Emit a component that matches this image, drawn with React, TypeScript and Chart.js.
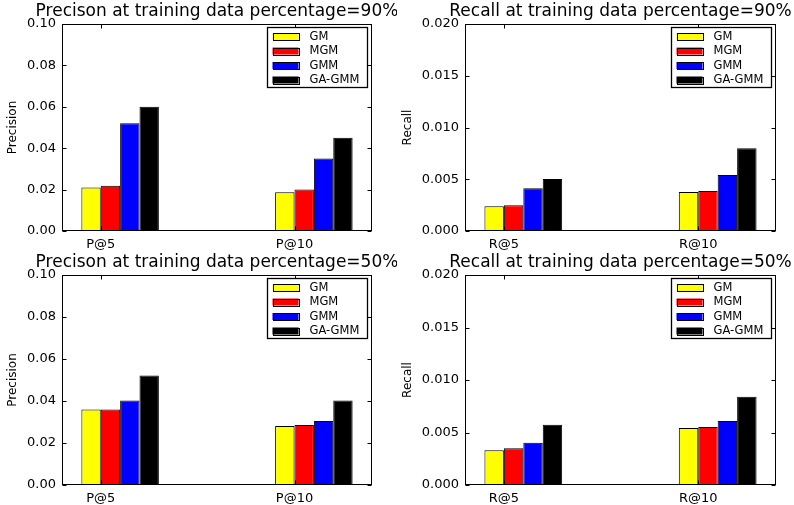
import React, { useEffect, useRef } from 'react';
import { Chart, registerables } from 'chart.js';

Chart.register(...registerables);

const FONT = '"DejaVu Sans", sans-serif';

const SERIES = ['GM', 'MGM', 'GMM', 'GA-GMM'];
const COLORS = ['#ffff00', '#ff0000', '#0000ff', '#000000'];

const P_LABELS = ['P@5', 'P@10'];
const R_LABELS = ['R@5', 'R@10'];

// Precision, training data 90%
const P90_GM = [0.021, 0.0187];
const P90_MGM = [0.0218, 0.02];
const P90_GMM = [0.052, 0.035];
const P90_GAGMM = [0.06, 0.045];

// Recall, training data 90%
const R90_GM = [0.0024, 0.00378];
const R90_MGM = [0.0025, 0.00387];
const R90_GMM = [0.00413, 0.0054];
const R90_GAGMM = [0.00502, 0.008];

// Precision, training data 50%
const P50_GM = [0.036, 0.0281];
const P50_MGM = [0.036, 0.0286];
const P50_GMM = [0.0402, 0.0305];
const P50_GAGMM = [0.0522, 0.0402];

// Recall, training data 50%
const R50_GM = [0.0033, 0.00543];
const R50_MGM = [0.0035, 0.00552];
const R50_GMM = [0.00403, 0.0061];
const R50_GAGMM = [0.00575, 0.00841];

const P_TICKS_MAX = 0.1;
const P_TICKS_STEP = 0.02;
const R_TICKS_MAX = 0.02;
const R_TICKS_STEP = 0.005;

const BAR_W = 0.1;

const framePlugin = {
  id: 'frame',
  afterDatasetsDraw(chart: any) {
    const { ctx, chartArea: a, scales } = chart;
    ctx.save();
    ctx.strokeStyle = '#000';
    ctx.lineWidth = 1;
    const L = Math.round(a.left) + 0.5;
    const R = Math.round(a.right) - 0.5;
    const T = Math.round(a.top) + 0.5;
    const B = Math.round(a.bottom) - 0.5;
    ctx.strokeRect(L, T, R - L, B - T);
    const tk = 4;
    ctx.beginPath();
    scales.y.ticks.forEach((t: any) => {
      const py = Math.round(scales.y.getPixelForValue(t.value)) + 0.5;
      ctx.moveTo(L, py);
      ctx.lineTo(L + tk, py);
      ctx.moveTo(R, py);
      ctx.lineTo(R - tk, py);
    });
    scales.x.ticks.forEach((t: any) => {
      const px = Math.round(scales.x.getPixelForValue(t.value)) + 0.5;
      ctx.moveTo(px, T);
      ctx.lineTo(px, T + tk);
      ctx.moveTo(px, B);
      ctx.lineTo(px, B - tk);
    });
    ctx.stroke();
    ctx.restore();
  },
};

const legendPlugin = {
  id: 'boxLegend',
  afterDraw(chart: any) {
    const { ctx, chartArea: a } = chart;
    const w = 100;
    const h = 60;
    const x0 = Math.round(a.right - 5 - w) + 0.5;
    const y0 = Math.round(a.top + 3) + 0.5;
    ctx.save();
    ctx.fillStyle = '#fff';
    ctx.fillRect(x0, y0, w, h);
    ctx.strokeStyle = '#000';
    ctx.lineWidth = 1.3;
    ctx.strokeRect(x0, y0, w, h);
    ctx.lineWidth = 1;
    ctx.font = `11.5px ${FONT}`;
    ctx.textBaseline = 'middle';
    ctx.textAlign = 'left';
    chart.data.datasets.forEach((ds: any, i: number) => {
      const cy = y0 + 9 + i * 14.5;
      ctx.fillStyle = ds.backgroundColor;
      ctx.fillRect(x0 + 5, cy - 3.5, 26, 7);
      ctx.strokeStyle = '#000';
      ctx.strokeRect(Math.round(x0 + 5) + 0.5, Math.round(cy - 3.5) + 0.5, 26, 7);
      ctx.fillStyle = '#000';
      ctx.fillText(ds.label, x0 + 42, cy + 0.5);
    });
    ctx.restore();
  },
};

const titlePlugin = {
  id: 'panelTitle',
  afterDraw(chart: any, _args: any, opts: any) {
    const { ctx, chartArea: a } = chart;
    ctx.save();
    ctx.font = `17px ${FONT}`;
    ctx.fillStyle = '#000';
    ctx.textAlign = 'center';
    ctx.textBaseline = 'middle';
    ctx.fillText(opts.text, (a.left + a.right) / 2, opts.y);
    ctx.restore();
  },
};

type PanelProps = {
  left: number;
  top: number;
  width: number;
  height: number;
  title: string;
  titleY: number;
  yLabel: string;
  yLabelPad: number;
  cats: string[];
  values: number[][];
  yMax: number;
  yStep: number;
  decimals: number;
  padTop: number;
  padRight: number;
  yAxisW: number;
  xAxisH: number;
};

function Panel(p: PanelProps) {
  const ref = useRef<HTMLCanvasElement>(null);
  useEffect(() => {
    if (!ref.current) return;
    const datasets = SERIES.map((name, s) => ({
      label: name,
      data: p.values[s].map((v, i) => ({ x: i + 2 * BAR_W, y: v })),
      backgroundColor: COLORS[s],
      borderColor: '#000',
      borderWidth: 1,
      borderSkipped: 'bottom',
      categoryPercentage: 4 * BAR_W,
      barPercentage: 1,
    }));
    const xMin = -BAR_W;
    const xMax = p.cats.length - 1 + 5 * BAR_W;
    const chart = new Chart(ref.current, {
      type: 'bar',
      data: { datasets: datasets as any },
      options: {
        animation: false,
        responsive: false,
        devicePixelRatio: 1,
        layout: { padding: { top: p.padTop, right: p.padRight, left: 0, bottom: 0 } },
        plugins: {
          legend: { display: false },
          tooltip: { enabled: false },
          title: { display: false },
          panelTitle: { text: p.title, y: p.titleY },
        } as any,
        scales: {
          x: {
            type: 'linear',
            offset: false,
            bounds: 'data',
            min: xMin,
            max: xMax,
            grid: { display: false, drawTicks: false, offset: false },
            border: { display: false },
            afterBuildTicks: (scale: any) => {
              scale.ticks = p.cats.map((_, i) => ({ value: i + BAR_W }));
            },
            afterDataLimits: (scale: any) => {
              scale.min = xMin;
              scale.max = xMax;
            },
            afterFit: (scale: any) => {
              scale.height = p.xAxisH;
            },
            ticks: {
              padding: 6,
              color: '#000',
              font: { family: FONT, size: 13 },
              maxRotation: 0,
              autoSkip: false,
              callback: (_v: any, i: number) => p.cats[i],
            },
          } as any,
          y: {
            min: 0,
            max: p.yMax,
            grid: { display: false, drawTicks: false },
            border: { display: false },
            afterFit: (scale: any) => {
              scale.width = p.yAxisW;
            },
            ticks: {
              stepSize: p.yStep,
              padding: 6,
              color: '#000',
              font: { family: FONT, size: 13 },
              callback: (v: any) => Number(v).toFixed(p.decimals),
            },
            title: {
              display: true,
              text: p.yLabel,
              color: '#000',
              font: { family: FONT, size: 12 },
              padding: { top: p.yLabelPad, bottom: 0 },
            },
          },
        },
      },
      plugins: [framePlugin, legendPlugin, titlePlugin],
    });
    return () => chart.destroy();
  }, []);
  return (
    <canvas
      ref={ref}
      width={p.width}
      height={p.height}
      style={{ position: 'absolute', left: p.left, top: p.top, width: p.width, height: p.height }}
    />
  );
}

export default function App() {
  return (
    <div style={{ position: 'fixed', left: 0, top: 0, width: 794, height: 505, background: '#fff', overflow: 'hidden' }}>
      <Panel
        left={0} top={0} width={397} height={252}
        title="Precison at training data percentage=90%" titleY={12}
        yLabel="Precision" yLabelPad={5.5}
        cats={P_LABELS}
        values={[P90_GM, P90_MGM, P90_GMM, P90_GAGMM]}
        yMax={P_TICKS_MAX} yStep={P_TICKS_STEP} decimals={2}
        padTop={24} padRight={25} yAxisW={62} xAxisH={21}
      />
      <Panel
        left={397} top={0} width={397} height={252}
        title="Recall at training data percentage=90%" titleY={12}
        yLabel="Recall" yLabelPad={3.5}
        cats={R_LABELS}
        values={[R90_GM, R90_MGM, R90_GMM, R90_GAGMM]}
        yMax={R_TICKS_MAX} yStep={R_TICKS_STEP} decimals={3}
        padTop={24} padRight={18} yAxisW={68} xAxisH={21}
      />
      <Panel
        left={0} top={252} width={397} height={253}
        title="Precison at training data percentage=50%" titleY={11}
        yLabel="Precision" yLabelPad={5.5}
        cats={P_LABELS}
        values={[P50_GM, P50_MGM, P50_GMM, P50_GAGMM]}
        yMax={P_TICKS_MAX} yStep={P_TICKS_STEP} decimals={2}
        padTop={23} padRight={25} yAxisW={62} xAxisH={20}
      />
      <Panel
        left={397} top={252} width={397} height={253}
        title="Recall at training data percentage=50%" titleY={11}
        yLabel="Recall" yLabelPad={3.5}
        cats={R_LABELS}
        values={[R50_GM, R50_MGM, R50_GMM, R50_GAGMM]}
        yMax={R_TICKS_MAX} yStep={R_TICKS_STEP} decimals={3}
        padTop={23} padRight={18} yAxisW={68} xAxisH={20}
      />
    </div>
  );
}
